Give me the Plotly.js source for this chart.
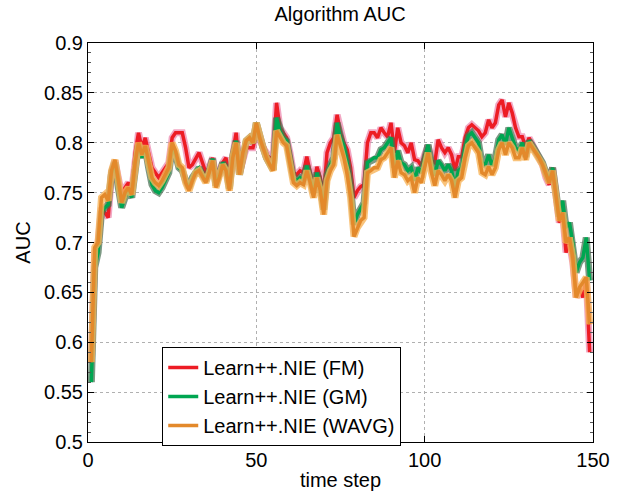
<!DOCTYPE html>
<html>
<head>
<meta charset="utf-8">
<script src="https://cdn.plot.ly/plotly-3.0.1.min.js"></script>
<style>html,body{margin:0;padding:0;background:#fff;}#chart{width:624px;height:496px;}</style>
</head>
<body>
<div id="chart"></div>
<script>
// time steps 1..149
const timeSteps = Array.from({length: 149}, (_, i) => i + 1);

const seriesNames = ["Learn++.NIE (FM)", "Learn++.NIE (GM)", "Learn++.NIE (WAVG)"];

const aucFM = [
0.580,0.690,0.700,0.735,0.730,0.725,0.770,0.782,0.765,0.748,
0.755,0.760,0.752,0.790,0.810,0.795,0.805,0.790,0.775,0.770,
0.765,0.770,0.775,0.780,0.805,0.810,0.810,0.810,0.795,0.775,
0.778,0.785,0.790,0.780,0.770,0.775,0.785,0.765,0.770,0.780,
0.785,0.760,0.790,0.810,0.770,0.785,0.795,0.795,0.795,0.810,
0.805,0.795,0.788,0.785,0.785,0.840,0.815,0.810,0.805,0.790,
0.770,0.768,0.772,0.770,0.786,0.770,0.755,0.776,0.765,0.748,
0.790,0.800,0.805,0.828,0.810,0.800,0.793,0.775,0.745,0.752,
0.756,0.758,0.800,0.810,0.810,0.805,0.815,0.810,0.806,0.820,
0.790,0.815,0.800,0.797,0.790,0.800,0.783,0.782,0.777,0.788,
0.797,0.782,0.780,0.803,0.795,0.790,0.795,0.788,0.772,0.786,
0.786,0.805,0.815,0.818,0.815,0.812,0.806,0.810,0.823,0.815,
0.820,0.838,0.843,0.826,0.840,0.830,0.815,0.806,0.806,0.795,
0.805,0.798,0.792,0.785,0.778,0.765,0.758,0.775,0.748,0.720,
0.728,0.690,0.700,0.680,0.645,0.655,0.645,0.665,0.590];

const aucGM = [
0.560,0.675,0.690,0.730,0.735,0.738,0.770,0.780,0.755,0.735,
0.745,0.752,0.745,0.778,0.798,0.785,0.795,0.775,0.758,0.752,
0.750,0.755,0.762,0.770,0.795,0.788,0.775,0.772,0.762,0.755,
0.765,0.772,0.775,0.768,0.762,0.772,0.784,0.757,0.767,0.780,
0.775,0.754,0.787,0.802,0.768,0.790,0.802,0.805,0.800,0.820,
0.805,0.795,0.785,0.778,0.773,0.825,0.812,0.805,0.802,0.785,
0.765,0.762,0.765,0.763,0.777,0.765,0.750,0.770,0.757,0.733,
0.768,0.778,0.785,0.820,0.805,0.797,0.780,0.757,0.718,0.728,
0.735,0.740,0.780,0.782,0.785,0.785,0.793,0.795,0.800,0.805,
0.775,0.792,0.780,0.778,0.772,0.775,0.762,0.775,0.770,0.785,
0.798,0.780,0.767,0.782,0.778,0.772,0.778,0.772,0.755,0.772,
0.775,0.795,0.807,0.810,0.805,0.800,0.780,0.778,0.788,0.777,
0.785,0.803,0.808,0.798,0.815,0.805,0.795,0.792,0.800,0.786,
0.802,0.797,0.792,0.786,0.780,0.770,0.762,0.775,0.748,0.726,
0.742,0.715,0.720,0.700,0.670,0.680,0.685,0.705,0.662];

const aucWAVG = [
0.580,0.695,0.700,0.745,0.748,0.742,0.772,0.783,0.762,0.740,
0.750,0.755,0.748,0.780,0.800,0.788,0.797,0.780,0.765,0.760,
0.757,0.762,0.768,0.775,0.800,0.792,0.778,0.775,0.760,0.752,
0.762,0.770,0.772,0.765,0.760,0.770,0.782,0.755,0.765,0.778,
0.772,0.752,0.785,0.800,0.768,0.790,0.802,0.805,0.800,0.820,
0.805,0.795,0.785,0.778,0.772,0.812,0.805,0.800,0.797,0.780,
0.760,0.757,0.760,0.758,0.772,0.760,0.745,0.765,0.752,0.728,
0.762,0.772,0.778,0.808,0.795,0.785,0.768,0.745,0.706,0.715,
0.722,0.725,0.770,0.772,0.775,0.775,0.783,0.785,0.790,0.795,
0.765,0.782,0.770,0.768,0.762,0.765,0.750,0.765,0.760,0.775,
0.790,0.770,0.757,0.772,0.768,0.762,0.768,0.762,0.745,0.762,
0.765,0.785,0.797,0.800,0.795,0.790,0.770,0.768,0.776,0.768,
0.775,0.793,0.800,0.788,0.800,0.795,0.785,0.785,0.795,0.783,
0.800,0.795,0.790,0.785,0.778,0.768,0.760,0.772,0.745,0.722,
0.730,0.700,0.705,0.685,0.645,0.655,0.660,0.665,0.618];

const lineColors = ["#ED1C24", "#00A651", "#E3892B"];
const bandColors = ["rgba(236,130,170,0.7)", "rgba(70,110,80,0.7)", "rgba(247,180,90,0.8)"];
const allSeries = [aucFM, aucGM, aucWAVG];

const traces = [];
allSeries.forEach((vals, i) => {
  traces.push({
    x: timeSteps, y: vals, type: "scatter", mode: "lines",
    line: {color: bandColors[i], width: 7},
    showlegend: false, hoverinfo: "skip"
  });
  traces.push({
    x: timeSteps, y: vals, type: "scatter", mode: "lines",
    name: seriesNames[i],
    line: {color: lineColors[i], width: 3.5}
  });
});

const fontFam = "Liberation Sans, Arial, sans-serif";
const layout = {
  width: 624, height: 496,
  margin: {l: 88, r: 31, t: 43, b: 54},
  paper_bgcolor: "#ffffff", plot_bgcolor: "#ffffff",
  font: {family: fontFam, size: 20, color: "#000"},
  title: {text: "Algorithm AUC", font: {family: fontFam, size: 20, color: "#000"}, x: 0.545, xanchor: "center", y: 0.985, yanchor: "top"},
  xaxis: {
    range: [0, 150], dtick: 50, tick0: 0,
    showline: true, linecolor: "#000", linewidth: 1, mirror: "ticks",
    ticks: "inside", ticklen: 6, tickcolor: "#000",
    showgrid: true, gridcolor: "#b0b0b0", griddash: "dot", gridwidth: 1,
    zeroline: false,
    tickfont: {family: fontFam, size: 20, color: "#000"},
    title: {text: "time step", font: {family: fontFam, size: 20, color: "#000"}, standoff: 2}
  },
  yaxis: {
    range: [0.5, 0.9], dtick: 0.05, tick0: 0.5,
    showline: true, linecolor: "#000", linewidth: 1, mirror: "ticks",
    ticks: "inside", ticklen: 6, tickcolor: "#000",
    minor: {ticks: "inside", ticklen: 3, dtick: 0.01, tickcolor: "#555", showgrid: false},
    showgrid: true, gridcolor: "#b0b0b0", griddash: "dot", gridwidth: 1,
    zeroline: false,
    tickfont: {family: fontFam, size: 20, color: "#000"},
    title: {text: "AUC", font: {family: fontFam, size: 20, color: "#000"}, standoff: 8}
  },
  legend: {
    x: 0.147, y: 0.238, xanchor: "left", yanchor: "top",
    bgcolor: "#ffffff", bordercolor: "#000", borderwidth: 1,
    font: {family: fontFam, size: 20, color: "#000"},
    itemwidth: 30, tracegroupgap: 0
  },
  showlegend: true
};

Plotly.newPlot("chart", traces, layout, {displayModeBar: false, staticPlot: true});
</script>
</body>
</html>
